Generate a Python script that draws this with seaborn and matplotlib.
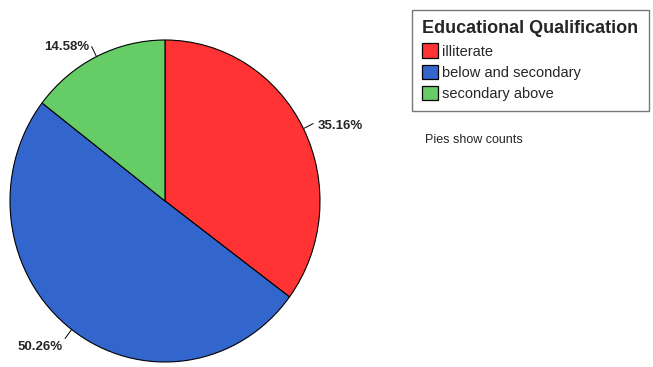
import numpy as np
import seaborn as sns
import matplotlib.pyplot as plt
from matplotlib.patches import Patch

categories = ["illiterate", "below and secondary", "secondary above"]
percents = [35.16, 50.26, 14.58]
colors = ["#FF3333", "#3366CC", "#66CC66"]

sns.set_style("white")
plt.rcParams["font.family"] = ["Liberation Sans", "DejaVu Sans"]

W, H = 653, 367
fig = plt.figure(figsize=(W / 100, H / 100), dpi=100)

# pie area in pixels: left 10, top 40, width 310, height 322
ax = fig.add_axes([10 / W, 1 - 362 / H, 310 / W, 322 / H])
wedges, _ = ax.pie(
    percents,
    colors=sns.color_palette(colors),
    startangle=90,
    counterclock=False,
    wedgeprops={"edgecolor": "black", "linewidth": 0.8},
)
ax.set_aspect("auto")
ax.set_xlim(-1, 1)
ax.set_ylim(-1, 1)
ax.axis("off")

for w, p in zip(wedges, percents):
    ang = np.deg2rad((w.theta1 + w.theta2) / 2)
    c, s = np.cos(ang), np.sin(ang)
    ax.plot([c, 1.07 * c], [s, 1.07 * s], color="black", lw=0.7, clip_on=False)
    ax.annotate(
        f"{p:.2f}%",
        xy=(1.1 * c, 1.1 * s),
        xytext=(0, -5),
        textcoords="offset pixels",
        ha="left" if c > 0 else "right",
        va="center",
        fontsize=9.5,
        fontweight="bold",
    )

handles = [Patch(facecolor=col, edgecolor="black", linewidth=0.9) for col in colors]
leg = fig.legend(
    handles,
    categories,
    title="Educational Qualification",
    loc="upper left",
    bbox_to_anchor=(412 / W, 1 - 10 / H),
    fontsize=10.5,
    title_fontproperties={"weight": "bold", "size": 13.0},
    alignment="left",
    handlelength=1.1,
    handleheight=1.15,
    handletextpad=0.25,
    labelspacing=0.42,
    borderpad=0.7,
    borderaxespad=0,
    fancybox=False,
    frameon=True,
)
leg.get_frame().set_edgecolor("#555555")
leg.get_frame().set_linewidth(1.0)

fig.text(425 / W, 1 - 140 / H, "Pies show counts", fontsize=9, va="center", ha="left")

fig.savefig("out.png", dpi=100)
